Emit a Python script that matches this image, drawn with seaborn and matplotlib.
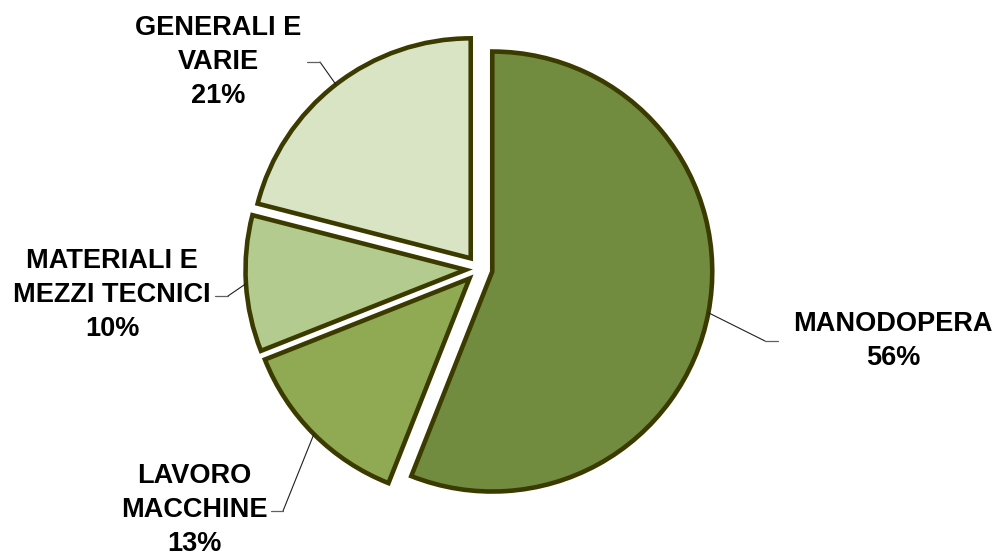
import numpy as np
import matplotlib
matplotlib.use("Agg")
import matplotlib.pyplot as plt
import seaborn as sns

# ---- data ----
categories = ["MANODOPERA", "LAVORO\nMACCHINE", "MATERIALI E\nMEZZI TECNICI", "GENERALI E\nVARIE"]
shares = [56, 13, 10, 21]
colors = ["#718B3F", "#8FAA52", "#B3CB8E", "#D8E4C4"]

# ---- layout (pixel coordinates, y measured from top) ----
W, H = 1001, 559
PIE_CENTER = (479, 269)
RADIUS = 220
EXPLODE = 13.5
label_text_pos = [(893, 341), (194.5, 510), (112, 295), (218, 62)]
label_elbow = [(765, 341), (283, 511), (228, 296), (320, 62)]
label_end = [(778, 341), (271, 511), (215, 296), (307, 62)]

sns.set_theme(style="white")
plt.rcParams["font.family"] = ["Liberation Sans", "DejaVu Sans"]

fig = plt.figure(figsize=(W / 100, H / 100), dpi=100)
ax = fig.add_axes([0, 0, 1, 1])

wedges, _ = ax.pie(
    shares,
    colors=colors,
    startangle=90,
    counterclock=False,
    radius=RADIUS,
    center=(PIE_CENTER[0], H - PIE_CENTER[1]),
    explode=[EXPLODE] * len(shares),
    wedgeprops=dict(edgecolor="#3B3B00", linewidth=3.3, joinstyle="miter"),
    frame=True,
)
ax.set_xlim(0, W)
ax.set_ylim(0, H)
ax.set_aspect("equal")
ax.axis("off")

total = sum(shares)
for w, name, val, tp, el, en in zip(wedges, categories, shares, label_text_pos, label_elbow, label_end):
    th = np.deg2rad((w.theta1 + w.theta2) / 2)
    cx, cy = w.center
    px, py = cx + RADIUS * np.cos(th), cy + RADIUS * np.sin(th)
    ax.plot([px, el[0]], [py, H - el[1]], color="#202020", lw=0.8, zorder=3)
    ax.plot([el[0], en[0]], [H - el[1], H - en[1]], color="#606060", lw=0.9, zorder=3)
    pct = round(100 * val / total)
    ax.text(tp[0], H - tp[1], f"{name}\n{pct}%", ha="center", va="center",
            fontsize=19.5, fontweight="bold", color="black", linespacing=1.38,
            multialignment="center")

fig.savefig("out.png", dpi=100, facecolor="white")
